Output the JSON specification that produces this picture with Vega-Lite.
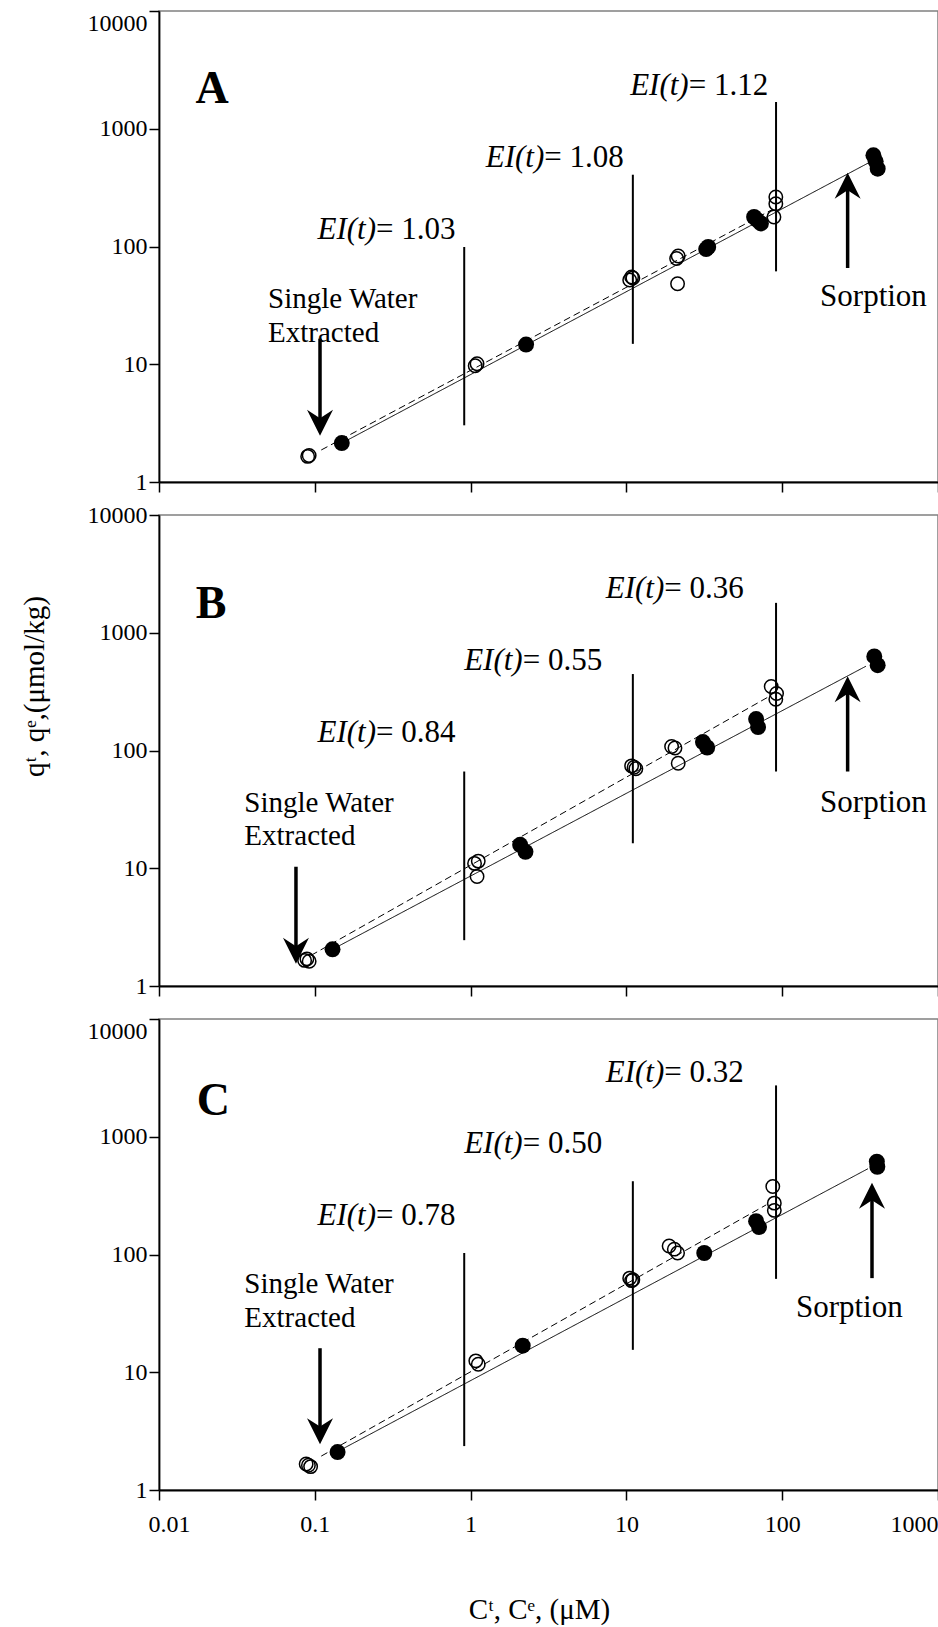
{
  "$schema": "https://vega.github.io/schema/vega-lite/v6.json",
  "padding": {"left": 19, "top": 9, "right": 0, "bottom": 0},
  "background": "white",
  "spacing": 33,
  "bounds": "flush",
  "config": {
    "view": {"stroke": "#808080", "strokeWidth": 1.5},
    "axis": {
      "labelFont": "Liberation Serif",
      "titleFont": "Liberation Serif",
      "labelColor": "black",
      "titleColor": "black",
      "domainColor": "black",
      "tickColor": "black",
      "domainWidth": 1.8,
      "tickWidth": 1.5,
      "tickSize": 10,
      "grid": false,
      "labelFontSize": 24,
      "titleFontSize": 29,
      "titleFontWeight": "normal"
    },
    "text": {"font": "Liberation Serif", "color": "black"}
  },
  "datasets": {
    "circles": [
      {"panel": "A", "kind": "open", "c": 0.09, "q": 1.65},
      {"panel": "A", "kind": "open", "c": 0.092, "q": 1.68},
      {"panel": "A", "kind": "open", "c": 1.07, "q": 9.7},
      {"panel": "A", "kind": "open", "c": 1.1, "q": 10.1},
      {"panel": "A", "kind": "open", "c": 10.5, "q": 52},
      {"panel": "A", "kind": "open", "c": 11.0, "q": 54},
      {"panel": "A", "kind": "open", "c": 10.8, "q": 55},
      {"panel": "A", "kind": "open", "c": 21.0, "q": 79},
      {"panel": "A", "kind": "open", "c": 21.5, "q": 83},
      {"panel": "A", "kind": "open", "c": 21.3, "q": 48.3},
      {"panel": "A", "kind": "open", "c": 91, "q": 263},
      {"panel": "A", "kind": "open", "c": 91, "q": 231},
      {"panel": "A", "kind": "open", "c": 88.5, "q": 178},
      {"panel": "A", "kind": "filled", "c": 0.149, "q": 2.14},
      {"panel": "A", "kind": "filled", "c": 2.27, "q": 14.7},
      {"panel": "A", "kind": "filled", "c": 32.5, "q": 95},
      {"panel": "A", "kind": "filled", "c": 33.5, "q": 99},
      {"panel": "A", "kind": "filled", "c": 66, "q": 178},
      {"panel": "A", "kind": "filled", "c": 69, "q": 168},
      {"panel": "A", "kind": "filled", "c": 73, "q": 157},
      {"panel": "A", "kind": "filled", "c": 385, "q": 595},
      {"panel": "A", "kind": "filled", "c": 398, "q": 529},
      {"panel": "A", "kind": "filled", "c": 410, "q": 458},
      {"panel": "B", "kind": "open", "c": 0.086, "q": 1.65},
      {"panel": "B", "kind": "open", "c": 0.092, "q": 1.62},
      {"panel": "B", "kind": "open", "c": 0.089, "q": 1.7},
      {"panel": "B", "kind": "open", "c": 1.06, "q": 11.0},
      {"panel": "B", "kind": "open", "c": 1.12, "q": 11.5},
      {"panel": "B", "kind": "open", "c": 1.1, "q": 8.5},
      {"panel": "B", "kind": "open", "c": 10.8, "q": 74},
      {"panel": "B", "kind": "open", "c": 11.5, "q": 70},
      {"panel": "B", "kind": "open", "c": 11.2, "q": 72},
      {"panel": "B", "kind": "open", "c": 19.5, "q": 108},
      {"panel": "B", "kind": "open", "c": 20.5, "q": 105},
      {"panel": "B", "kind": "open", "c": 21.5, "q": 78},
      {"panel": "B", "kind": "open", "c": 85, "q": 350},
      {"panel": "B", "kind": "open", "c": 92, "q": 305},
      {"panel": "B", "kind": "open", "c": 91, "q": 272},
      {"panel": "B", "kind": "filled", "c": 0.13, "q": 2.05},
      {"panel": "B", "kind": "filled", "c": 2.08, "q": 15.8},
      {"panel": "B", "kind": "filled", "c": 2.25, "q": 13.8},
      {"panel": "B", "kind": "filled", "c": 31, "q": 118},
      {"panel": "B", "kind": "filled", "c": 33, "q": 106},
      {"panel": "B", "kind": "filled", "c": 68, "q": 185},
      {"panel": "B", "kind": "filled", "c": 70, "q": 158},
      {"panel": "B", "kind": "filled", "c": 390, "q": 630},
      {"panel": "B", "kind": "filled", "c": 410, "q": 530},
      {"panel": "C", "kind": "open", "c": 0.088, "q": 1.66},
      {"panel": "C", "kind": "open", "c": 0.094, "q": 1.58},
      {"panel": "C", "kind": "open", "c": 0.091, "q": 1.62},
      {"panel": "C", "kind": "open", "c": 1.08, "q": 12.5},
      {"panel": "C", "kind": "open", "c": 1.12, "q": 11.7},
      {"panel": "C", "kind": "open", "c": 10.5, "q": 63},
      {"panel": "C", "kind": "open", "c": 11.0, "q": 61},
      {"panel": "C", "kind": "open", "c": 10.8, "q": 60},
      {"panel": "C", "kind": "open", "c": 18.8, "q": 118},
      {"panel": "C", "kind": "open", "c": 20.3, "q": 111},
      {"panel": "C", "kind": "open", "c": 21.3, "q": 103},
      {"panel": "C", "kind": "open", "c": 87, "q": 378},
      {"panel": "C", "kind": "open", "c": 89, "q": 273},
      {"panel": "C", "kind": "open", "c": 89, "q": 237},
      {"panel": "C", "kind": "filled", "c": 0.14, "q": 2.1},
      {"panel": "C", "kind": "filled", "c": 2.16, "q": 16.8},
      {"panel": "C", "kind": "filled", "c": 31.6, "q": 103},
      {"panel": "C", "kind": "filled", "c": 68, "q": 192},
      {"panel": "C", "kind": "filled", "c": 71, "q": 171},
      {"panel": "C", "kind": "filled", "c": 405, "q": 615},
      {"panel": "C", "kind": "filled", "c": 408, "q": 555}
    ],
    "fits": [
      {"panel": "A", "fit": "sorption", "c": 0.149, "q": 2.14},
      {"panel": "A", "fit": "sorption", "c": 357, "q": 512},
      {"panel": "A", "fit": "extraction", "c": 0.11, "q": 1.87},
      {"panel": "A", "fit": "extraction", "c": 87, "q": 207},
      {"panel": "B", "fit": "sorption", "c": 0.13, "q": 2.05},
      {"panel": "B", "fit": "sorption", "c": 345, "q": 520},
      {"panel": "B", "fit": "extraction", "c": 0.0946, "q": 1.82},
      {"panel": "B", "fit": "extraction", "c": 82.6, "q": 288},
      {"panel": "C", "fit": "sorption", "c": 0.14, "q": 2.12},
      {"panel": "C", "fit": "sorption", "c": 355, "q": 535},
      {"panel": "C", "fit": "extraction", "c": 0.11, "q": 1.94},
      {"panel": "C", "fit": "extraction", "c": 79, "q": 264}
    ],
    "markers": [
      {"panel": "A", "c": 0.91, "q": 3.03, "q2": 99},
      {"panel": "A", "c": 11.0, "q": 14.9, "q2": 407},
      {"panel": "A", "c": 91.3, "q": 61.5, "q2": 1687},
      {"panel": "B", "c": 0.91, "q": 2.45, "q2": 66.3},
      {"panel": "B", "c": 11.0, "q": 16.3, "q2": 446},
      {"panel": "B", "c": 91.3, "q": 66.3, "q2": 1794},
      {"panel": "C", "c": 0.91, "q": 2.36, "q2": 103},
      {"panel": "C", "c": 11.0, "q": 15.5, "q2": 419},
      {"panel": "C", "c": 91.3, "q": 62.1, "q2": 2729}
    ],
    "ei": [
      {"panel": "A", "c": 0.247, "q": 115, "lhs": "EI(t)", "rhs": "= 1.03"},
      {"panel": "A", "c": 2.97, "q": 473, "lhs": "EI(t)", "rhs": "= 1.08"},
      {"panel": "A", "c": 25.1, "q": 1946, "lhs": "EI(t)", "rhs": "= 1.12"},
      {"panel": "B", "c": 0.247, "q": 119, "lhs": "EI(t)", "rhs": "= 0.84"},
      {"panel": "B", "c": 2.16, "q": 486, "lhs": "EI(t)", "rhs": "= 0.55"},
      {"panel": "B", "c": 17.5, "q": 1977, "lhs": "EI(t)", "rhs": "= 0.36"},
      {"panel": "C", "c": 0.247, "q": 177.6, "lhs": "EI(t)", "rhs": "= 0.78"},
      {"panel": "C", "c": 2.16, "q": 722, "lhs": "EI(t)", "rhs": "= 0.50"},
      {"panel": "C", "c": 17.5, "q": 2932, "lhs": "EI(t)", "rhs": "= 0.32"}
    ],
    "notes": [
      {"panel": "A", "c": 0.0501, "q": 30.0, "text": "Single Water"},
      {"panel": "A", "c": 0.0501, "q": 15.45, "text": "Extracted"},
      {"panel": "A", "c": 175, "q": 31.2, "text": "Sorption"},
      {"panel": "B", "c": 0.0353, "q": 30.3, "text": "Single Water"},
      {"panel": "B", "c": 0.0353, "q": 15.9, "text": "Extracted"},
      {"panel": "B", "c": 175, "q": 30.3, "text": "Sorption"},
      {"panel": "C", "c": 0.0353, "q": 47.3, "text": "Single Water"},
      {"panel": "C", "c": 0.0353, "q": 24.4, "text": "Extracted"},
      {"panel": "C", "c": 122.5, "q": 29.6, "text": "Sorption"}
    ],
    "letters": [
      {"panel": "A", "c": 0.0219, "q": 2178, "text": "A"},
      {"panel": "B", "c": 0.0216, "q": 1766, "text": "B"},
      {"panel": "C", "c": 0.0223, "q": 2027, "text": "C"}
    ],
    "arrows": [
      {"panel": "A", "dir": "down", "c": 0.108, "q": 3.19, "q2": 16.5},
      {"panel": "A", "dir": "up", "c": 263, "q": 328, "q2": 65.7},
      {"panel": "B", "dir": "down", "c": 0.0757, "q": 1.99, "q2": 10.3},
      {"panel": "B", "dir": "up", "c": 263, "q": 332, "q2": 66.3},
      {"panel": "C", "dir": "down", "c": 0.108, "q": 3.16, "q2": 16.0},
      {"panel": "C", "dir": "up", "c": 377, "q": 316, "q2": 63}
    ]
  },
  "vconcat": [
    {
      "width": 779,
      "height": 471,
      "encoding": {
        "x": {"field": "c", "type": "quantitative", "scale": {"type": "log", "domain": [0.01, 1000], "nice": false}, "axis": {"values": [0.01, 0.1, 1, 10, 100, 1000], "labels": false, "title": null}},
        "y": {"field": "q", "type": "quantitative", "scale": {"type": "log", "domain": [1, 10000], "nice": false}, "axis": {"values": [1, 10, 100, 1000, 10000], "format": "~g", "title": null, "labelPadding": 2, "labelBaseline": {"condition": {"test": "datum.value >= 10000", "value": "top"}, "value": "middle"}}}
      },
      "layer": [
        {
          "data": {"name": "fits"},
          "transform": [{"filter": "datum.panel === 'A'"}],
          "mark": {"type": "line", "color": "black", "strokeWidth": 1},
          "encoding": {
            "detail": {"field": "fit"},
            "strokeDash": {"field": "fit", "type": "nominal", "scale": {"domain": ["sorption", "extraction"], "range": [[1, 0], [7, 4]]}, "legend": null}
          }
        },
        {
          "data": {"name": "markers"},
          "transform": [{"filter": "datum.panel === 'A'"}],
          "mark": {"type": "rule", "color": "black", "strokeWidth": 2},
          "encoding": {"y2": {"field": "q2"}}
        },
        {
          "data": {"name": "arrows"},
          "transform": [{"filter": "datum.panel === 'A'"}],
          "mark": {"type": "rule", "color": "black", "strokeWidth": 3.5},
          "encoding": {"y2": {"field": "q2"}}
        },
        {
          "data": {"name": "arrows"},
          "transform": [{"filter": "datum.panel === 'A'"}],
          "mark": {"type": "point", "filled": true, "color": "black", "opacity": 1, "size": 676},
          "encoding": {
            "shape": {"field": "dir", "type": "nominal", "scale": {"domain": ["down", "up"], "range": ["M0,1L-1,-1L0,-0.35L1,-1Z", "M0,-1L1,1L0,0.35L-1,1Z"]}, "legend": null}
          }
        },
        {
          "data": {"name": "circles"},
          "transform": [{"filter": "datum.panel === 'A' && datum.kind === 'open'"}],
          "mark": {"type": "point", "shape": "circle", "filled": false, "color": "black", "strokeWidth": 1.5, "size": 180, "opacity": 1}
        },
        {
          "data": {"name": "circles"},
          "transform": [{"filter": "datum.panel === 'A' && datum.kind === 'filled'"}],
          "mark": {"type": "point", "shape": "circle", "filled": true, "color": "black", "size": 255, "opacity": 1}
        },
        {
          "data": {"name": "ei"},
          "transform": [{"filter": "datum.panel === 'A'"}],
          "mark": {"type": "text", "fontSize": 31, "fontStyle": "italic", "align": "right", "baseline": "alphabetic"},
          "encoding": {"text": {"field": "lhs"}}
        },
        {
          "data": {"name": "ei"},
          "transform": [{"filter": "datum.panel === 'A'"}],
          "mark": {"type": "text", "fontSize": 31, "align": "left", "baseline": "alphabetic"},
          "encoding": {"text": {"field": "rhs"}}
        },
        {
          "data": {"name": "notes"},
          "transform": [{"filter": "datum.panel === 'A' && datum.text !== 'Sorption'"}],
          "mark": {"type": "text", "fontSize": 29, "align": "left", "baseline": "alphabetic"},
          "encoding": {"text": {"field": "text"}}
        },
        {
          "data": {"name": "notes"},
          "transform": [{"filter": "datum.panel === 'A' && datum.text === 'Sorption'"}],
          "mark": {"type": "text", "fontSize": 31, "align": "left", "baseline": "alphabetic"},
          "encoding": {"text": {"field": "text"}}
        },
        {
          "data": {"name": "letters"},
          "transform": [{"filter": "datum.panel === 'A'"}],
          "mark": {"type": "text", "fontSize": 46, "fontWeight": "bold", "align": "center", "baseline": "middle"},
          "encoding": {"text": {"field": "text"}}
        }
      ]
    },
    {
      "width": 779,
      "height": 471,
      "encoding": {
        "x": {"field": "c", "type": "quantitative", "scale": {"type": "log", "domain": [0.01, 1000], "nice": false}, "axis": {"values": [0.01, 0.1, 1, 10, 100, 1000], "labels": false, "title": null}},
        "y": {"field": "q", "type": "quantitative", "scale": {"type": "log", "domain": [1, 10000], "nice": false}, "axis": {"values": [1, 10, 100, 1000, 10000], "format": "~g", "title": "qᵗ, qᵉ,(μmol/kg)", "labelPadding": 2, "titleX": -110, "titleY": 171}}
      },
      "layer": [
        {
          "data": {"name": "fits"},
          "transform": [{"filter": "datum.panel === 'B'"}],
          "mark": {"type": "line", "color": "black", "strokeWidth": 1},
          "encoding": {
            "detail": {"field": "fit"},
            "strokeDash": {"field": "fit", "type": "nominal", "scale": {"domain": ["sorption", "extraction"], "range": [[1, 0], [7, 4]]}, "legend": null}
          }
        },
        {
          "data": {"name": "markers"},
          "transform": [{"filter": "datum.panel === 'B'"}],
          "mark": {"type": "rule", "color": "black", "strokeWidth": 2},
          "encoding": {"y2": {"field": "q2"}}
        },
        {
          "data": {"name": "arrows"},
          "transform": [{"filter": "datum.panel === 'B'"}],
          "mark": {"type": "rule", "color": "black", "strokeWidth": 3.5},
          "encoding": {"y2": {"field": "q2"}}
        },
        {
          "data": {"name": "arrows"},
          "transform": [{"filter": "datum.panel === 'B'"}],
          "mark": {"type": "point", "filled": true, "color": "black", "opacity": 1, "size": 676},
          "encoding": {
            "shape": {"field": "dir", "type": "nominal", "scale": {"domain": ["down", "up"], "range": ["M0,1L-1,-1L0,-0.35L1,-1Z", "M0,-1L1,1L0,0.35L-1,1Z"]}, "legend": null}
          }
        },
        {
          "data": {"name": "circles"},
          "transform": [{"filter": "datum.panel === 'B' && datum.kind === 'open'"}],
          "mark": {"type": "point", "shape": "circle", "filled": false, "color": "black", "strokeWidth": 1.5, "size": 180, "opacity": 1}
        },
        {
          "data": {"name": "circles"},
          "transform": [{"filter": "datum.panel === 'B' && datum.kind === 'filled'"}],
          "mark": {"type": "point", "shape": "circle", "filled": true, "color": "black", "size": 255, "opacity": 1}
        },
        {
          "data": {"name": "ei"},
          "transform": [{"filter": "datum.panel === 'B'"}],
          "mark": {"type": "text", "fontSize": 31, "fontStyle": "italic", "align": "right", "baseline": "alphabetic"},
          "encoding": {"text": {"field": "lhs"}}
        },
        {
          "data": {"name": "ei"},
          "transform": [{"filter": "datum.panel === 'B'"}],
          "mark": {"type": "text", "fontSize": 31, "align": "left", "baseline": "alphabetic"},
          "encoding": {"text": {"field": "rhs"}}
        },
        {
          "data": {"name": "notes"},
          "transform": [{"filter": "datum.panel === 'B' && datum.text !== 'Sorption'"}],
          "mark": {"type": "text", "fontSize": 29, "align": "left", "baseline": "alphabetic"},
          "encoding": {"text": {"field": "text"}}
        },
        {
          "data": {"name": "notes"},
          "transform": [{"filter": "datum.panel === 'B' && datum.text === 'Sorption'"}],
          "mark": {"type": "text", "fontSize": 31, "align": "left", "baseline": "alphabetic"},
          "encoding": {"text": {"field": "text"}}
        },
        {
          "data": {"name": "letters"},
          "transform": [{"filter": "datum.panel === 'B'"}],
          "mark": {"type": "text", "fontSize": 46, "fontWeight": "bold", "align": "center", "baseline": "middle"},
          "encoding": {"text": {"field": "text"}}
        }
      ]
    },
    {
      "width": 779,
      "height": 471,
      "encoding": {
        "x": {"field": "c", "type": "quantitative", "scale": {"type": "log", "domain": [0.01, 1000], "nice": false}, "axis": {"values": [0.01, 0.1, 1, 10, 100, 1000], "format": "~g", "title": "Cᵗ, Cᵉ, (μM)", "labelPadding": 12, "labelAlign": {"condition": {"test": "datum.value > 500", "value": "right"}, "value": "center"}, "labelOffset": {"condition": {"test": "datum.value < 0.05", "value": 10}, "value": 0}, "titleX": 380, "titleY": 105}},
        "y": {"field": "q", "type": "quantitative", "scale": {"type": "log", "domain": [1, 10000], "nice": false}, "axis": {"values": [1, 10, 100, 1000, 10000], "format": "~g", "title": null, "labelPadding": 2, "labelBaseline": {"condition": {"test": "datum.value >= 10000", "value": "top"}, "value": "middle"}}}
      },
      "layer": [
        {
          "data": {"name": "fits"},
          "transform": [{"filter": "datum.panel === 'C'"}],
          "mark": {"type": "line", "color": "black", "strokeWidth": 1},
          "encoding": {
            "detail": {"field": "fit"},
            "strokeDash": {"field": "fit", "type": "nominal", "scale": {"domain": ["sorption", "extraction"], "range": [[1, 0], [7, 4]]}, "legend": null}
          }
        },
        {
          "data": {"name": "markers"},
          "transform": [{"filter": "datum.panel === 'C'"}],
          "mark": {"type": "rule", "color": "black", "strokeWidth": 2},
          "encoding": {"y2": {"field": "q2"}}
        },
        {
          "data": {"name": "arrows"},
          "transform": [{"filter": "datum.panel === 'C'"}],
          "mark": {"type": "rule", "color": "black", "strokeWidth": 3.5},
          "encoding": {"y2": {"field": "q2"}}
        },
        {
          "data": {"name": "arrows"},
          "transform": [{"filter": "datum.panel === 'C'"}],
          "mark": {"type": "point", "filled": true, "color": "black", "opacity": 1, "size": 676},
          "encoding": {
            "shape": {"field": "dir", "type": "nominal", "scale": {"domain": ["down", "up"], "range": ["M0,1L-1,-1L0,-0.35L1,-1Z", "M0,-1L1,1L0,0.35L-1,1Z"]}, "legend": null}
          }
        },
        {
          "data": {"name": "circles"},
          "transform": [{"filter": "datum.panel === 'C' && datum.kind === 'open'"}],
          "mark": {"type": "point", "shape": "circle", "filled": false, "color": "black", "strokeWidth": 1.5, "size": 180, "opacity": 1}
        },
        {
          "data": {"name": "circles"},
          "transform": [{"filter": "datum.panel === 'C' && datum.kind === 'filled'"}],
          "mark": {"type": "point", "shape": "circle", "filled": true, "color": "black", "size": 255, "opacity": 1}
        },
        {
          "data": {"name": "ei"},
          "transform": [{"filter": "datum.panel === 'C'"}],
          "mark": {"type": "text", "fontSize": 31, "fontStyle": "italic", "align": "right", "baseline": "alphabetic"},
          "encoding": {"text": {"field": "lhs"}}
        },
        {
          "data": {"name": "ei"},
          "transform": [{"filter": "datum.panel === 'C'"}],
          "mark": {"type": "text", "fontSize": 31, "align": "left", "baseline": "alphabetic"},
          "encoding": {"text": {"field": "rhs"}}
        },
        {
          "data": {"name": "notes"},
          "transform": [{"filter": "datum.panel === 'C' && datum.text !== 'Sorption'"}],
          "mark": {"type": "text", "fontSize": 29, "align": "left", "baseline": "alphabetic"},
          "encoding": {"text": {"field": "text"}}
        },
        {
          "data": {"name": "notes"},
          "transform": [{"filter": "datum.panel === 'C' && datum.text === 'Sorption'"}],
          "mark": {"type": "text", "fontSize": 31, "align": "left", "baseline": "alphabetic"},
          "encoding": {"text": {"field": "text"}}
        },
        {
          "data": {"name": "letters"},
          "transform": [{"filter": "datum.panel === 'C'"}],
          "mark": {"type": "text", "fontSize": 46, "fontWeight": "bold", "align": "center", "baseline": "middle"},
          "encoding": {"text": {"field": "text"}}
        }
      ]
    }
  ]
}
